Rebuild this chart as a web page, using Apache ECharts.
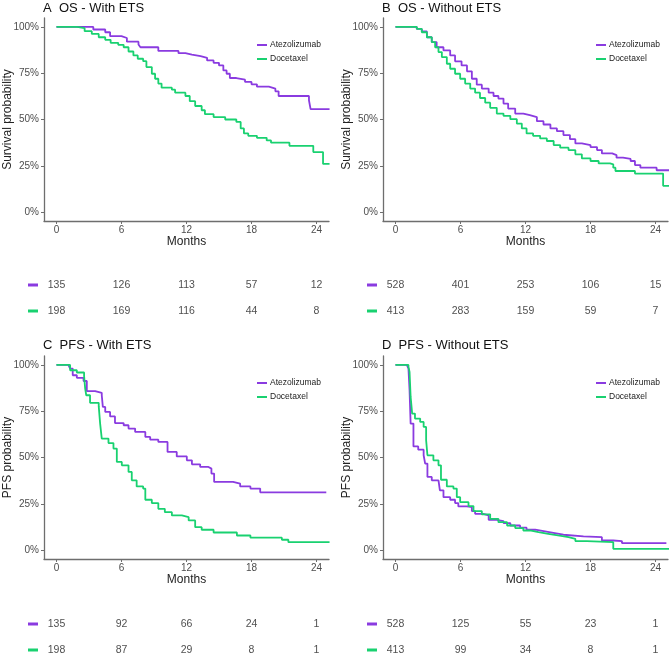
<!DOCTYPE html>
<html>
<head>
<meta charset="utf-8">
<script src="https://cdn.jsdelivr.net/npm/echarts@6/dist/echarts.min.js"></script>
<style>
  html, body { margin: 0; padding: 0; background: #fff; }
  #chart { width: 669px; height: 654px; }
</style>
</head>
<body>
<div id="chart"></div>
<script>
// tick positions and labels
const monthTicks = [0, 6, 12, 18, 24]
const probTicks = [0, 0.25, 0.5, 0.75, 1]
const arms = ['Atezolizumab', 'Docetaxel']

// KM curves: [month, survival]
const osEtsAtezo = [[0, 1], [3.4, 0.986], [4.5, 0.971], [4.95, 0.95], [6.0, 0.94], [6.5, 0.92], [7.57, 0.905], [7.75, 0.89],
  [9.4, 0.87], [11.26, 0.858], [11.9, 0.85], [12.5, 0.842], [13.3, 0.833], [13.9, 0.819], [14.5, 0.806], [15.0, 0.792],
  [15.4, 0.765], [15.7, 0.747], [16.0, 0.724], [16.6, 0.715], [17.4, 0.703], [18.0, 0.69], [18.5, 0.677], [19.6, 0.667],
  [20.2, 0.652], [20.5, 0.627], [23.3, 0.604], [23.45, 0.556], [25.2, 0.556]]
const osEtsDoce = [[0, 1], [1.9, 0.993], [2.6, 0.977], [3.26, 0.962], [3.9, 0.944], [4.5, 0.93], [5.0, 0.914], [5.7, 0.903],
  [6.2, 0.89], [6.65, 0.867], [7.1, 0.846], [7.5, 0.828], [8.0, 0.815], [8.3, 0.783], [8.8, 0.747], [9.1, 0.72], [9.4, 0.694],
  [9.7, 0.672], [10.65, 0.661], [10.95, 0.645], [11.9, 0.627], [12.3, 0.599], [12.8, 0.573], [13.4, 0.55], [13.7, 0.529],
  [14.5, 0.513], [15.57, 0.5], [16.6, 0.487], [17.0, 0.452], [17.3, 0.425], [17.7, 0.412], [18.5, 0.401], [19.4, 0.387],
  [19.8, 0.375], [21.5, 0.358], [23.7, 0.324], [24.6, 0.26], [25.2, 0.26]]
const osNoEtsAtezo = [[0, 1], [1.66, 1], [1.97, 0.989], [2.43, 0.975], [2.9, 0.944], [3.35, 0.918], [3.8, 0.89], [4.43, 0.873],
  [5.05, 0.846], [5.5, 0.814], [6.1, 0.792], [6.6, 0.76], [7.05, 0.72], [7.5, 0.688], [7.97, 0.667], [8.6, 0.645], [9.05, 0.627],
  [9.5, 0.613], [9.97, 0.586], [10.4, 0.559], [11.05, 0.532], [11.8, 0.523], [12.4, 0.513], [13.05, 0.491], [13.66, 0.473],
  [14.3, 0.452], [14.9, 0.437], [15.5, 0.416], [16.1, 0.394], [16.6, 0.371], [17.2, 0.362], [18.0, 0.351], [18.6, 0.335],
  [19.05, 0.317], [20.0, 0.308], [20.4, 0.294], [21.0, 0.287], [21.7, 0.276], [22.1, 0.254], [22.6, 0.24], [24.1, 0.226], [25.3, 0.226]]
const osNoEtsDoce = [[0, 1], [1.66, 1], [1.97, 0.989], [2.43, 0.971], [2.9, 0.944], [3.35, 0.918], [3.66, 0.89], [3.97, 0.864],
  [4.28, 0.837], [4.74, 0.801], [5.05, 0.774], [5.5, 0.747], [5.97, 0.72], [6.43, 0.694], [6.9, 0.667], [7.35, 0.645], [7.8, 0.616],
  [8.28, 0.591], [8.74, 0.563], [9.35, 0.532], [9.97, 0.52], [10.6, 0.502], [11.2, 0.478], [11.66, 0.452], [12.1, 0.425],
  [12.7, 0.412], [13.35, 0.398], [13.97, 0.384], [14.6, 0.362], [15.2, 0.348], [15.97, 0.335], [16.6, 0.312], [17.2, 0.29],
  [18.0, 0.276], [18.75, 0.263], [19.8, 0.258], [20.1, 0.24], [20.3, 0.222], [22.1, 0.208], [24.7, 0.142], [25.3, 0.142]]
const pfsEtsAtezo = [[0, 1], [1.1, 1], [1.26, 0.98], [1.5, 0.944], [1.88, 0.93], [2.5, 0.913], [2.8, 0.858], [3.57, 0.849],
  [4.18, 0.836], [4.28, 0.773], [4.5, 0.746], [4.95, 0.722], [5.4, 0.686], [6.2, 0.674], [6.65, 0.656], [7.26, 0.638], [8.2, 0.611],
  [8.65, 0.596], [9.4, 0.584], [10.25, 0.53], [11.1, 0.506], [12.03, 0.485], [12.5, 0.463], [13.26, 0.449], [14.03, 0.44],
  [14.3, 0.413], [14.55, 0.368], [16.3, 0.359], [16.95, 0.344], [17.9, 0.332], [18.8, 0.312], [24.9, 0.312]]
const pfsEtsDoce = [[0, 1], [1.26, 0.971], [1.88, 0.959], [2.55, 0.94], [2.65, 0.872], [2.75, 0.836], [3.1, 0.795], [3.9, 0.777],
  [4.03, 0.683], [4.18, 0.602], [4.8, 0.578], [5.26, 0.548], [5.57, 0.476], [6.03, 0.458], [6.65, 0.422], [6.95, 0.377], [7.4, 0.344],
  [8.0, 0.332], [8.2, 0.272], [8.8, 0.254], [9.4, 0.223], [10.0, 0.205], [10.65, 0.187], [11.57, 0.178], [12.2, 0.16], [12.8, 0.124],
  [13.4, 0.11], [14.5, 0.095], [16.65, 0.079], [17.9, 0.067], [20.8, 0.056], [21.4, 0.043], [25.2, 0.043]]
const pfsNoEtsAtezo = [[0, 1], [0.74, 1], [1.05, 0.993], [1.2, 0.98], [1.3, 0.863], [1.4, 0.683], [1.66, 0.56], [2.1, 0.542],
  [2.6, 0.512], [2.74, 0.467], [2.95, 0.395], [3.35, 0.377], [3.97, 0.368], [4.1, 0.323], [4.43, 0.286], [5.05, 0.272], [5.5, 0.254],
  [5.8, 0.236], [6.6, 0.232], [7.05, 0.211], [7.35, 0.196], [8.1, 0.187], [8.6, 0.164], [9.2, 0.157], [9.97, 0.146], [10.6, 0.133],
  [11.5, 0.121], [12.1, 0.11], [12.9, 0.101], [13.8, 0.092], [14.7, 0.083], [15.5, 0.074], [17.35, 0.07], [19.05, 0.052],
  [20.1, 0.049], [20.9, 0.038], [25.0, 0.038]]
const pfsNoEtsDoce = [[0, 1], [0.9, 1], [1.2, 0.989], [1.3, 0.962], [1.4, 0.827], [1.54, 0.737], [1.8, 0.71], [2.28, 0.692],
  [2.6, 0.665], [2.83, 0.593], [2.95, 0.512], [3.5, 0.485], [3.97, 0.458], [4.2, 0.38], [4.74, 0.344], [5.35, 0.332], [5.66, 0.286],
  [5.97, 0.259], [6.74, 0.238], [7.2, 0.211], [7.97, 0.193], [8.74, 0.169], [9.5, 0.151], [10.3, 0.133], [11.05, 0.119], [11.8, 0.106],
  [12.4, 0.097], [13.2, 0.088], [14.1, 0.079], [15.0, 0.07], [15.97, 0.061], [16.6, 0.049], [17.66, 0.043], [20.1, 0.007], [25.26, 0.007]]

// numbers at risk at months 0, 6, 12, 18, 24
const riskOsEtsAtezo = [135, 126, 113, 57, 12]
const riskOsEtsDoce = [198, 169, 116, 44, 8]
const riskOsNoEtsAtezo = [528, 401, 253, 106, 15]
const riskOsNoEtsDoce = [413, 283, 159, 59, 7]
const riskPfsEtsAtezo = [135, 92, 66, 24, 1]
const riskPfsEtsDoce = [198, 87, 29, 8, 1]
const riskPfsNoEtsAtezo = [528, 125, 55, 23, 1]
const riskPfsNoEtsDoce = [413, 99, 34, 8, 1]

const purple = '#8a3be0'
const green = '#19d170'
const font = 'Liberation Sans, Arial, sans-serif'
const xMin = -1.15
const xMax = 25.15

const panels = [
  { title: 'A  OS - With ETS', yName: 'Survival probability', left: 44, top: 18, titleTop: 2, rowA: 285,
    atezo: osEtsAtezo, doce: osEtsDoce, riskA: riskOsEtsAtezo, riskD: riskOsEtsDoce },
  { title: 'B  OS - Without ETS', yName: 'Survival probability', left: 383, top: 18, titleTop: 2, rowA: 285,
    atezo: osNoEtsAtezo, doce: osNoEtsDoce, riskA: riskOsNoEtsAtezo, riskD: riskOsNoEtsDoce },
  { title: 'C  PFS - With ETS', yName: 'PFS probability', left: 44, top: 356, titleTop: 339, rowA: 624,
    atezo: pfsEtsAtezo, doce: pfsEtsDoce, riskA: riskPfsEtsAtezo, riskD: riskPfsEtsDoce },
  { title: 'D  PFS - Without ETS', yName: 'PFS probability', left: 383, top: 356, titleTop: 339, rowA: 624,
    atezo: pfsNoEtsAtezo, doce: pfsNoEtsDoce, riskA: riskPfsNoEtsAtezo, riskD: riskPfsNoEtsDoce }
]

const title = [], grid = [], xAxis = [], yAxis = [], series = [], legend = []
const axisCol = '#6e6e6e'
const labelCol = '#4d4d4d'
const rowGap = 26

panels.forEach((p, i) => {
  const g = i * 2
  title.push({
    text: p.title, left: p.left - 1, top: p.titleTop, padding: 0,
    textStyle: { fontFamily: font, fontSize: 13, fontWeight: 'normal', color: '#111' }
  })
  // curve grid
  grid.push({ left: p.left, top: p.top, width: 285, height: 203, outerBoundsMode: 'none' })
  // risk table grid: row 0 = Atezolizumab, row 1 = Docetaxel
  grid.push({ left: p.left, top: p.rowA - 13, width: 285, height: 40, outerBoundsMode: 'none' })

  xAxis.push({
    gridIndex: g, type: 'value', min: xMin, max: xMax,
    name: 'Months', nameLocation: 'middle', nameGap: 15,
    nameTextStyle: { fontFamily: font, fontSize: 12, color: '#222' },
    axisLine: { onZero: false, lineStyle: { color: axisCol, width: 1.3 } },
    axisTick: { show: true, length: 3, customValues: monthTicks, lineStyle: { color: axisCol } },
    axisLabel: { customValues: monthTicks, fontFamily: font, fontSize: 10, color: labelCol, margin: 4 },
    splitLine: { show: false }
  })
  xAxis.push({ gridIndex: g + 1, type: 'value', min: xMin, max: xMax, show: false })

  yAxis.push({
    gridIndex: g, type: 'value', min: -0.048, max: 1.048,
    name: p.yName, nameLocation: 'middle', nameGap: 30, nameRotate: 90, nameMoveOverlap: false,
    nameTextStyle: { fontFamily: font, fontSize: 12, color: '#222' },
    axisLine: { show: true, onZero: false, lineStyle: { color: axisCol, width: 1.3 } },
    axisTick: { show: true, length: 3, customValues: probTicks, lineStyle: { color: axisCol } },
    axisLabel: {
      customValues: probTicks, fontFamily: font, fontSize: 10, color: labelCol, margin: 5,
      formatter: (v) => Math.round(v * 100) + '%'
    },
    splitLine: { show: false }
  })
  yAxis.push({
    gridIndex: g + 1, type: 'value', inverse: true, min: -0.5, max: 40 / rowGap - 0.5,
    axisLine: { show: false, onZero: false }, axisTick: { show: false }, splitLine: { show: false },
    axisLabel: {
      customValues: [0, 1], margin: 6,
      formatter: (v) => v === 0 ? '{a|}' : '{d|}',
      rich: {
        a: { width: 10, height: 3, backgroundColor: purple },
        d: { width: 10, height: 3, backgroundColor: green }
      }
    }
  })

  const lineOpt = (name, data, color) => ({
    name, type: 'line', step: 'end', xAxisIndex: g, yAxisIndex: g,
    data, showSymbol: false, symbol: 'none', animation: false,
    lineStyle: { color, width: 1.8 }, itemStyle: { color }
  })
  series.push(lineOpt('Atezolizumab', p.atezo, purple))
  series.push(lineOpt('Docetaxel', p.doce, green))

  const riskData = []
  monthTicks.forEach((m, k) => {
    riskData.push([m, 0, p.riskA[k]])
    riskData.push([m, 1, p.riskD[k]])
  })
  series.push({
    type: 'scatter', xAxisIndex: g + 1, yAxisIndex: g + 1, data: riskData,
    symbolSize: 1, itemStyle: { color: 'rgba(0,0,0,0)' }, silent: true, animation: false,
    label: {
      show: true, position: 'inside', fontFamily: font, fontSize: 10.5, color: '#222',
      formatter: (d) => String(d.value[2])
    }
  })

  legend.push({
    data: arms, orient: 'vertical', left: p.left + 213, top: p.top + 22, padding: 0,
    icon: 'rect', itemWidth: 10, itemHeight: 2, itemGap: 4,
    textStyle: { fontFamily: font, fontSize: 8.5, color: '#222', lineHeight: 10, padding: [0, 0, 0, -2] }
  })
})

const chart = echarts.init(document.getElementById('chart'), null, { renderer: 'canvas' })
chart.setOption({
  backgroundColor: '#fff',
  animation: false,
  title, grid, xAxis, yAxis, series, legend
})
</script>
</body>
</html>
